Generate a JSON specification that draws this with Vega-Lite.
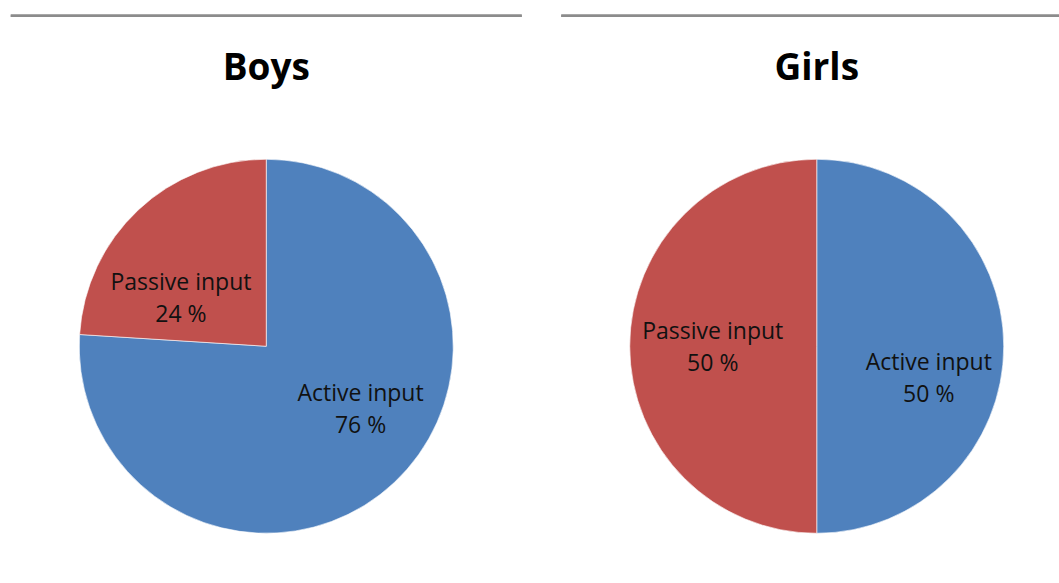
{
  "$schema": "https://vega.github.io/schema/vega-lite/v6.json",
  "background": "white",
  "padding": {"left": 8.75, "top": 13.75, "right": 0, "bottom": 0},
  "config": {"view": {"stroke": null}, "font": "Open Sans"},
  "data": {"values": [
    {"group": "Boys", "input": "Active input", "value": 76},
    {"group": "Boys", "input": "Passive input", "value": 24},
    {"group": "Girls", "input": "Active input", "value": 50},
    {"group": "Girls", "input": "Passive input", "value": 50}
  ]},
  "transform": [{"calculate": "datum.input + '\\n' + datum.value + ' %'", "as": "label"}],
  "spacing": 35.5,
  "hconcat": [
    {
      "width": 511,
      "height": 661,
      "title": {"text": "Boys", "fontSize": 37, "fontWeight": "bold", "font": "Open Sans", "color": "#000000", "anchor": "middle", "offset": -73},
      "transform": [{"filter": "datum.group === 'Boys'"}],
      "layer": [
        {"mark": {"type": "rule", "color": "#8c8c8c", "strokeWidth": 2.5},
         "encoding": {"y": {"datum": 0, "scale": {"domain": [0, 1], "reverse": true}, "axis": null}}},
        {"mark": {"type": "arc", "outerRadius": 187, "stroke": "#ffffff", "strokeWidth": 0.6},
         "encoding": {
           "theta": {"field": "value", "type": "quantitative", "stack": true},
           "order": {"field": "input", "sort": "ascending"},
           "color": {"field": "input", "type": "nominal", "scale": {"domain": ["Active input", "Passive input"], "range": ["#4F81BD", "#C0504D"]}, "legend": null}
         }},
        {"mark": {"type": "text", "radius": 110, "fontSize": 23, "font": "Open Sans", "color": "#111111", "lineBreak": "\n", "lineHeight": 32, "align": "center", "baseline": "middle", "dx": 19, "dy": -32},
         "encoding": {
           "theta": {"field": "value", "type": "quantitative", "stack": true},
           "order": {"field": "input", "sort": "ascending"},
           "detail": {"field": "input"},
           "text": {"condition": {"test": "datum.input === 'Active input'", "field": "label"}, "value": ""}
         }},
        {"mark": {"type": "text", "radius": 110, "fontSize": 23, "font": "Open Sans", "color": "#111111", "lineBreak": "\n", "lineHeight": 32, "align": "center", "baseline": "middle", "dx": -10, "dy": 17},
         "encoding": {
           "theta": {"field": "value", "type": "quantitative", "stack": true},
           "order": {"field": "input", "sort": "ascending"},
           "detail": {"field": "input"},
           "text": {"condition": {"test": "datum.input === 'Passive input'", "field": "label"}, "value": ""}
         }}
      ]
    },
    {
      "width": 511,
      "height": 661,
      "title": {"text": "Girls", "fontSize": 37, "fontWeight": "bold", "font": "Open Sans", "color": "#000000", "anchor": "middle", "offset": -73},
      "transform": [{"filter": "datum.group === 'Girls'"}],
      "layer": [
        {"mark": {"type": "rule", "color": "#8c8c8c", "strokeWidth": 2.5},
         "encoding": {"y": {"datum": 0, "scale": {"domain": [0, 1], "reverse": true}, "axis": null}}},
        {"mark": {"type": "arc", "outerRadius": 187, "stroke": "#ffffff", "strokeWidth": 0.6},
         "encoding": {
           "theta": {"field": "value", "type": "quantitative", "stack": true},
           "order": {"field": "input", "sort": "ascending"},
           "color": {"field": "input", "type": "nominal", "scale": {"domain": ["Active input", "Passive input"], "range": ["#4F81BD", "#C0504D"]}, "legend": null}
         }},
        {"mark": {"type": "text", "radius": 110, "fontSize": 23, "font": "Open Sans", "color": "#111111", "lineBreak": "\n", "lineHeight": 32, "align": "center", "baseline": "middle", "dx": 2, "dy": 17},
         "encoding": {
           "theta": {"field": "value", "type": "quantitative", "stack": true},
           "order": {"field": "input", "sort": "ascending"},
           "detail": {"field": "input"},
           "text": {"condition": {"test": "datum.input === 'Active input'", "field": "label"}, "value": ""}
         }},
        {"mark": {"type": "text", "radius": 110, "fontSize": 23, "font": "Open Sans", "color": "#111111", "lineBreak": "\n", "lineHeight": 32, "align": "center", "baseline": "middle", "dx": 6, "dy": -14},
         "encoding": {
           "theta": {"field": "value", "type": "quantitative", "stack": true},
           "order": {"field": "input", "sort": "ascending"},
           "detail": {"field": "input"},
           "text": {"condition": {"test": "datum.input === 'Passive input'", "field": "label"}, "value": ""}
         }}
      ]
    }
  ]
}
